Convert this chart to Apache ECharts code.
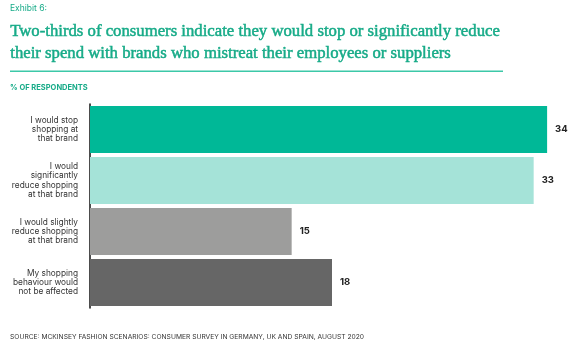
<!DOCTYPE html>
<html><head><meta charset="utf-8">
<style>html,body{margin:0;padding:0;background:#fff}#c{width:587px;height:354px}</style>
<script src="https://cdn.jsdelivr.net/npm/echarts@6/dist/echarts.min.js"></script>
</head><body><div id="c"></div>
<script>
const categories = [
  "I would stop\nshopping at\nthat brand",
  "I would\nsignificantly\nreduce shopping\nat that brand",
  "I would slightly\nreduce shopping\nat that brand",
  "My shopping\nbehaviour would\nnot be affected"
];
const values = [34, 33, 15, 18];
const barColors = ["#00b897", "#a5e3d8", "#9d9d9c", "#666666"];
const titleLines = [
  "Two-thirds of consumers indicate they would stop or significantly reduce",
  "their spend with brands who mistreat their employees or suppliers"
];

// fit title font size to the reference width
const cv = document.createElement('canvas').getContext('2d');
cv.font = '20px "Liberation Serif"';
const w20 = cv.measureText(titleLines[0]).width;
const titleSize = Math.min(21, 20 * 490 / w20);

const chart = echarts.init(document.getElementById('c'));
const green = '#17ab88';
chart.setOption({
  animation: false,
  grid: {left: 90, right: 13, top: 104, bottom: 46},
  xAxis: {type: 'value', min: 0, max: 36, show: false},
  yAxis: {
    type: 'category', data: categories, inverse: true,
    axisLine: {show: true, lineStyle: {color: '#111', width: 1.5}},
    axisTick: {show: false},
    axisLabel: {margin: 12, fontSize: 8.3, lineHeight: 9.4, color: '#333', fontFamily: 'Inter', align: 'right'}
  },
  series: [{
    type: 'bar', barWidth: 47,
    data: values.map((v, i) => ({value: v, itemStyle: {color: barColors[i]}})),
    label: {show: true, position: 'right', distance: 8, fontSize: 9.5, fontWeight: 'bold', color: '#222', fontFamily: 'Inter'}
  }],
  graphic: [
    {type: 'text', left: 10, top: 4, style: {text: 'Exhibit 6:', fontSize: 8.5, fill: green, fontFamily: 'Inter'}},
    {type: 'text', left: 10, top: 21, style: {text: titleLines.join('\n'), fontSize: titleSize, lineHeight: 22, fill: green, stroke: green, lineWidth: 0.5, fontFamily: 'Liberation Serif'}},
    {type: 'rect', shape: {x: 10, y: 70.5, width: 493, height: 1.5}, style: {fill: '#3cc8a8'}},
    {type: 'text', left: 10, top: 84, style: {text: '% OF RESPONDENTS', fontSize: 7.5, fontWeight: 'bold', fill: green, fontFamily: 'Inter'}},
    {type: 'text', left: 10, top: 333, style: {text: 'SOURCE: MCKINSEY FASHION SCENARIOS: CONSUMER SURVEY IN GERMANY, UK AND SPAIN, AUGUST 2020', fontSize: 6.7, fill: '#333', fontFamily: 'Inter'}}
  ]
});
</script></body></html>
